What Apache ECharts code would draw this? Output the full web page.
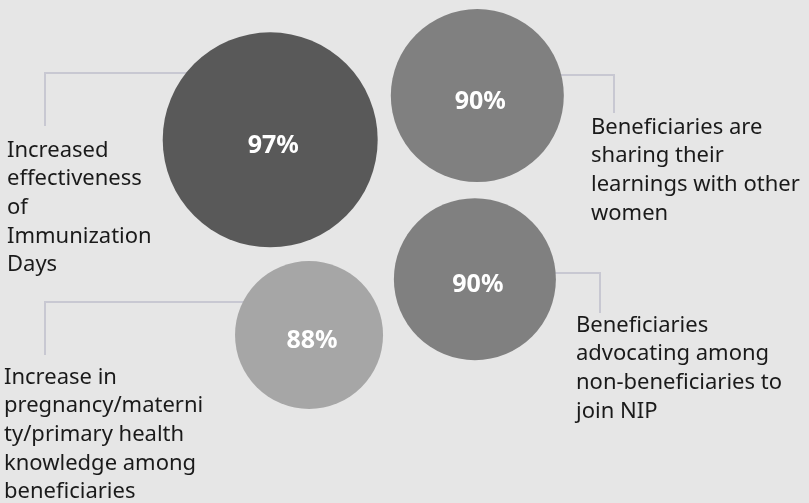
<!DOCTYPE html>
<html>
<head>
<meta charset="utf-8">
<script src="https://cdn.jsdelivr.net/npm/echarts@6/dist/echarts.min.js"></script>
<style>html,body{margin:0;padding:0;background:#e6e6e6}#c{width:809px;height:503px}</style>
</head>
<body>
<div id="c"></div>
<script>
// Data
var categories = [
  "Increased effectiveness of Immunization Days",
  "Beneficiaries are sharing their learnings with other women",
  "Beneficiaries advocating among non-beneficiaries to join NIP",
  "Increase in pregnancy/maternity/primary health knowledge among beneficiaries"
];
var values = [97, 90, 90, 88];
var valueLabels = ["97%", "90%", "90%", "88%"];
// bubble layout positions (percent of canvas)
var posX = [33.4, 59.0, 58.7, 38.2];
var posY = [27.8, 19.0, 55.5, 66.6];
var labelLines = [
  "Increased\neffectiveness\nof\nImmunization\nDays",
  "Beneficiaries are\nsharing their\nlearnings with other\nwomen",
  "Beneficiaries\nadvocating among\nnon-beneficiaries to\njoin NIP",
  "Increase in\npregnancy/materni\nty/primary health\nknowledge among\nbeneficiaries"
];

var sizes = [215, 173, 162, 148];
var colors = ['#595959', '#808080', '#808080', '#a6a6a6'];

var chart = echarts.init(document.getElementById('c'));
var data = values.map(function (v, i) {
  return {
    value: [posX[i], posY[i], v],
    name: categories[i],
    symbolSize: sizes[i],
    itemStyle: { color: colors[i], opacity: 1 },
    label: { formatter: valueLabels[i] }
  };
});

var lineStyle = { stroke: '#c8c8d2', lineWidth: 2, fill: null };
var textStyleBase = { fill: '#1a1a1a', font: '22px "Noto Sans"', lineHeight: 28.7, textVerticalAlign: 'top' };
function pl(points) {
  return { type: 'polyline', z: 0, shape: { points: points }, style: lineStyle };
}

chart.setOption({
  backgroundColor: '#e6e6e6',
  animation: false,
  grid: { left: 0, right: 0, top: 0, bottom: 0 },
  xAxis: { type: 'value', min: 0, max: 100, show: false },
  yAxis: { type: 'value', min: 0, max: 100, inverse: true, show: false },
  graphic: [
    pl([[45, 126], [45, 73], [200, 73]]),
    pl([[550, 75], [614, 75], [614, 113]]),
    pl([[545, 273], [600, 273], [600, 313]]),
    pl([[45, 355], [45, 302], [250, 302]]),
    { type: 'text', x: 7, y: 136, z: 1, style: Object.assign({ text: labelLines[0] }, textStyleBase) },
    { type: 'text', x: 591, y: 113, z: 1, style: Object.assign({ text: labelLines[1] }, textStyleBase) },
    { type: 'text', x: 576, y: 311, z: 1, style: Object.assign({ text: labelLines[2] }, textStyleBase) },
    { type: 'text', x: 4, y: 363, z: 1, style: Object.assign({ text: labelLines[3] }, textStyleBase) }
  ],
  series: [{
    type: 'scatter',
    z: 5,
    data: data,
    itemStyle: { opacity: 1 },
    label: {
      show: true,
      position: 'inside',
      color: '#ffffff',
      fontFamily: 'Noto Sans',
      fontWeight: 'bold',
      fontSize: 25,
      offset: [3, 6]
    },
    emphasis: { disabled: true }
  }]
});
</script>
</body>
</html>
